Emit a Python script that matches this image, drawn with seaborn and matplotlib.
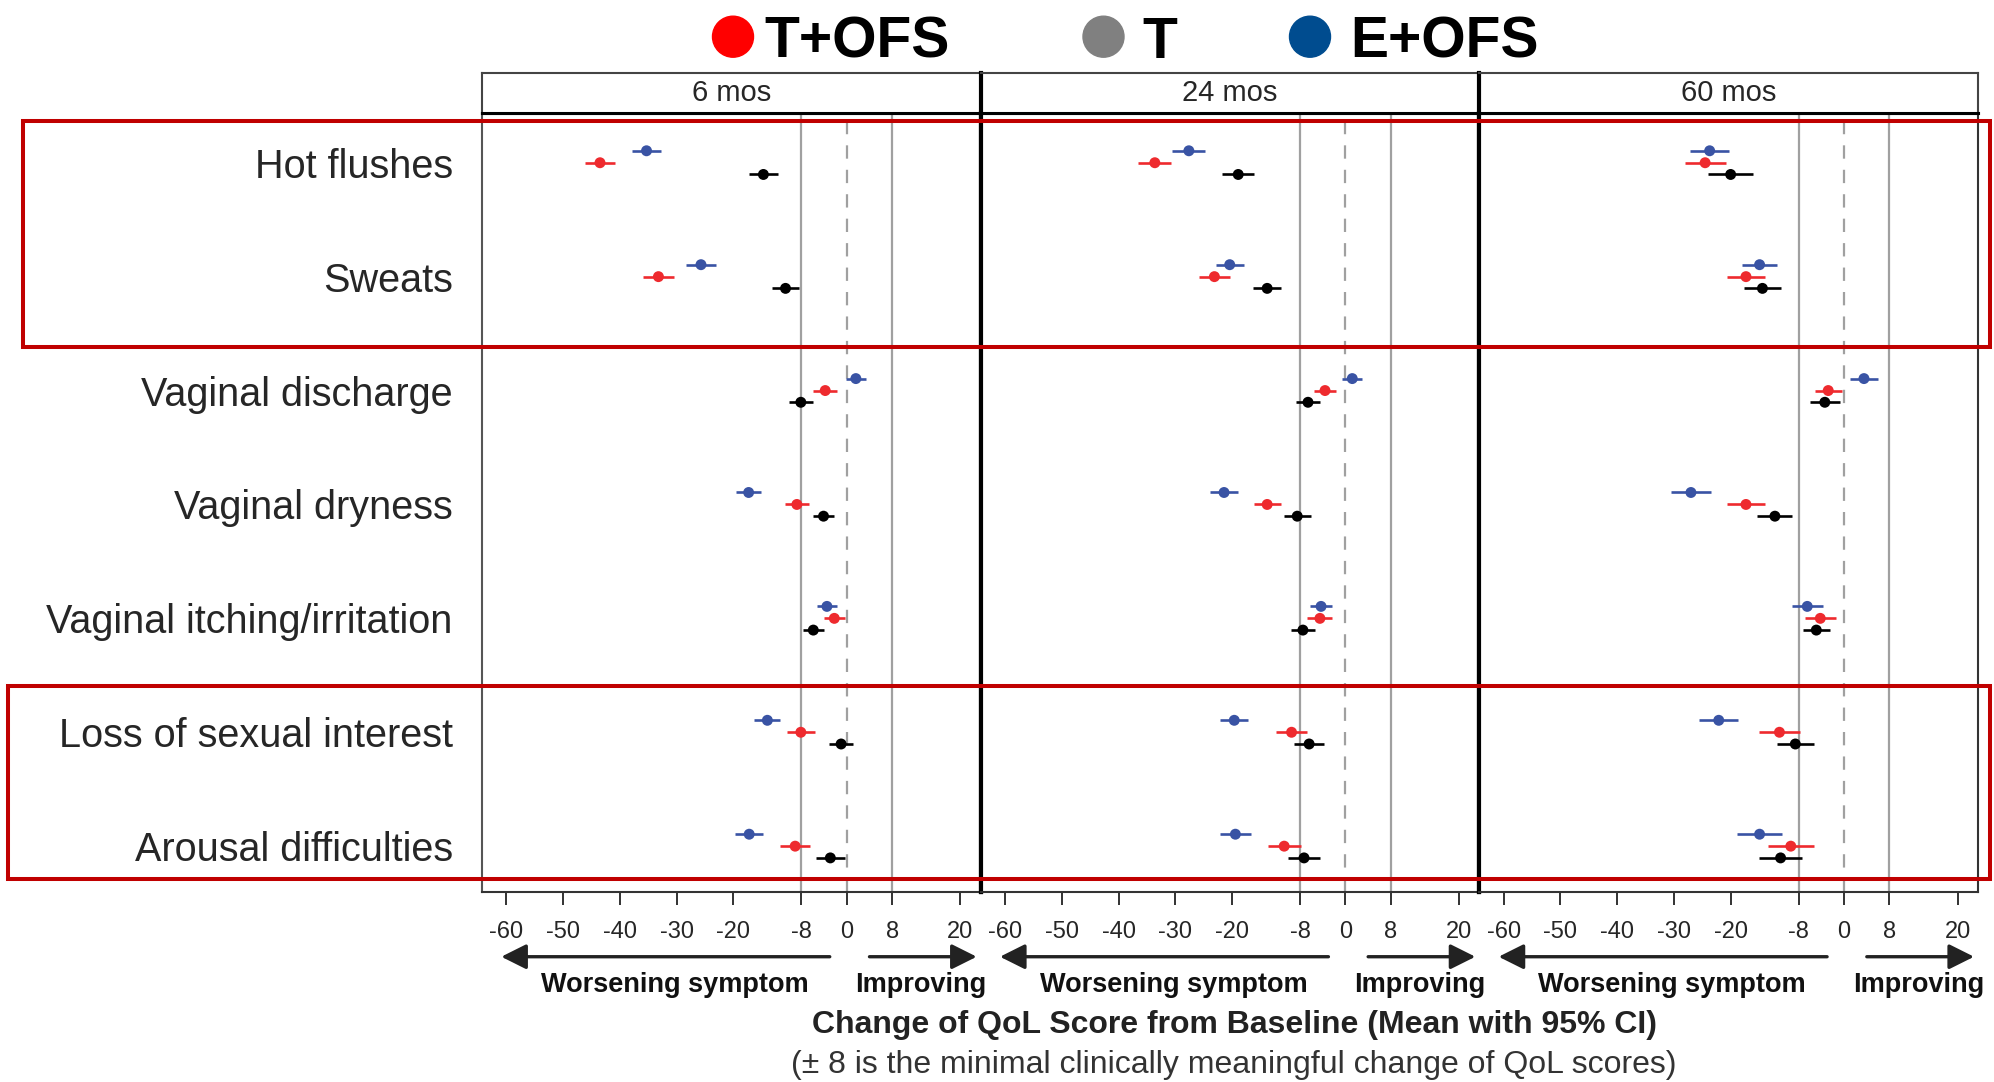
import numpy as np
import pandas as pd
import matplotlib
matplotlib.use("Agg")
import matplotlib.pyplot as plt
import seaborn as sns
from matplotlib.patches import Rectangle, Ellipse

# ---- data ----
categories = ["Hot flushes", "Sweats", "Vaginal discharge", "Vaginal dryness",
              "Vaginal itching/irritation", "Loss of sexual interest", "Arousal difficulties"]
periods = ["6 mos", "24 mos", "60 mos"]
groups = ["E+OFS", "T+OFS", "T"]

# mean change and 95% CI half-width, per period
t_ofs_mean_6 = [-43.5, -33.2, -3.8, -8.8, -2.2, -8.1, -9.1]
t_ofs_ci_6 = [2.6, 2.7, 2.1, 2.1, 1.8, 2.5, 2.6]
t_mean_6 = [-14.7, -10.8, -8.1, -4.1, -5.9, -1.0, -2.9]
t_ci_6 = [2.6, 2.4, 2.1, 1.8, 1.9, 2.1, 2.6]
e_ofs_mean_6 = [-35.3, -25.7, 1.6, -17.3, -3.5, -14.0, -17.2]
e_ofs_ci_6 = [2.6, 2.6, 1.8, 2.2, 1.8, 2.3, 2.5]

t_ofs_mean_24 = [-33.6, -23.1, -3.6, -13.8, -4.5, -9.5, -10.8]
t_ofs_ci_24 = [2.9, 2.7, 2.0, 2.4, 2.2, 2.7, 2.9]
t_mean_24 = [-18.9, -13.8, -6.6, -8.5, -7.5, -6.4, -7.3]
t_ci_24 = [2.8, 2.5, 2.1, 2.4, 2.1, 2.6, 2.8]
e_ofs_mean_24 = [-27.6, -20.4, 1.2, -21.4, -4.3, -19.6, -19.4]
e_ofs_ci_24 = [2.9, 2.5, 1.8, 2.5, 1.9, 2.5, 2.8]

t_ofs_mean_60 = [-24.5, -17.3, -2.8, -17.3, -4.2, -11.4, -9.4]
t_ofs_ci_60 = [3.6, 3.3, 2.4, 3.3, 2.7, 3.6, 4.1]
t_mean_60 = [-20.0, -14.4, -3.4, -12.2, -4.9, -8.6, -11.2]
t_ci_60 = [4.0, 3.2, 2.6, 3.1, 2.4, 3.3, 3.8]
e_ofs_mean_60 = [-23.7, -14.9, 3.5, -27.0, -6.5, -22.1, -14.9]
e_ofs_ci_60 = [3.4, 3.1, 2.4, 3.5, 2.7, 3.4, 3.9]

x_ticks = [-60, -50, -40, -30, -20, -8, 0, 8, 20]

# ---- styling ----
dot_colors = {"E+OFS": "#3953a4", "T+OFS": "#ee2a2e", "T": "#000000"}
legend_colors = {"T+OFS": "#ff0000", "T": "#808080", "E+OFS": "#004c8f"}
offsets = {"E+OFS": -0.105, "T+OFS": 0.0, "T": 0.103}

period_data = {
    "6 mos": {"T+OFS": (t_ofs_mean_6, t_ofs_ci_6), "T": (t_mean_6, t_ci_6), "E+OFS": (e_ofs_mean_6, e_ofs_ci_6)},
    "24 mos": {"T+OFS": (t_ofs_mean_24, t_ofs_ci_24), "T": (t_mean_24, t_ci_24), "E+OFS": (e_ofs_mean_24, e_ofs_ci_24)},
    "60 mos": {"T+OFS": (t_ofs_mean_60, t_ofs_ci_60), "T": (t_mean_60, t_ci_60), "E+OFS": (e_ofs_mean_60, e_ofs_ci_60)},
}

rows = []
for period in periods:
    for g in groups:
        means, cis = period_data[period][g]
        for i, cat in enumerate(categories):
            rows.append({"period": period, "group": g, "category": cat,
                         "pos": i + offsets[g], "mean": means[i],
                         "lo": means[i] - cis[i], "hi": means[i] + cis[i]})
df = pd.DataFrame(rows)

sns.set_theme(style="white")
plt.rcParams["font.family"] = ["Liberation Sans", "DejaVu Sans"]

W, H = 1994, 1082
fig = plt.figure(figsize=(W / 100, H / 100), dpi=100)

left_px, right_px = 482, 1978
top_px, bot_px = 113.3, 892.3
pw = (right_px - left_px) / 3

for k, period in enumerate(periods):
    ax = fig.add_axes([(left_px + k * pw) / W, 1 - bot_px / H, pw / W, (bot_px - top_px) / H])
    sub = df[df.period == period]

    ax.axvline(-8, color="#a0a0a0", lw=1.6, zorder=1)
    ax.axvline(8, color="#a0a0a0", lw=1.6, zorder=1)
    ax.axvline(0, color="#a0a0a0", lw=1.6, ls=(0, (6, 5)), zorder=1)

    ax.hlines(sub["pos"], sub["lo"], sub["hi"], colors=sub["group"].map(dot_colors), lw=1.9, zorder=2)
    sns.scatterplot(data=sub, x="mean", y="pos", hue="group", palette=dot_colors,
                    s=62, linewidth=0, legend=False, ax=ax, zorder=3)

    ax.set_xlim(-64.3, 23.6)
    ax.set_ylim(6.405, -0.434)
    ax.set_xticks(x_ticks)
    ax.set_xticklabels([str(t) for t in x_ticks], fontsize=17)
    ax.tick_params(axis="x", direction="out", length=9.4, width=1.3, color="#222222", pad=11, bottom=True)
    ax.set_xlabel("")
    ax.set_ylabel("")
    ax.set_yticks(range(len(categories)))
    if k == 0:
        ax.set_yticklabels(categories, fontsize=28.5)
        ax.tick_params(axis="y", length=0, pad=21)
    else:
        ax.set_yticklabels([])
        ax.tick_params(axis="y", length=0)

    for side in ["left", "right", "bottom", "top"]:
        ax.spines[side].set_color("#333333")
        ax.spines[side].set_linewidth(1.5)
    ax.spines["top"].set_color("#000000")
    ax.spines["top"].set_linewidth(2.2)
    if k == 0:
        ax.spines["left"].set_color("#555555")
    if k > 0:
        ax.spines["left"].set_color("#000000")
        ax.spines["left"].set_linewidth(3)
    if k < 2:
        ax.spines["right"].set_color("#000000")
        ax.spines["right"].set_linewidth(3)

    # direction arrows and captions under the axis
    tr = ax.get_xaxis_transform()
    arrow = dict(arrowstyle="-|>,head_length=0.9,head_width=0.45", lw=2.4, color="#222222",
                 shrinkA=0, shrinkB=0, mutation_scale=17)
    ax.annotate("", xy=(-60.9, -0.0827), xytext=(-3.0, -0.0827), xycoords=tr, textcoords=tr,
                arrowprops=arrow, annotation_clip=False)
    ax.annotate("", xy=(22.9, -0.0827), xytext=(4.0, -0.0827), xycoords=tr, textcoords=tr,
                arrowprops=arrow, annotation_clip=False)
    ax.text(-30.3, -0.119, "Worsening symptom", transform=tr, ha="center", va="center",
            fontsize=19.5, fontweight="bold", color="#111111")
    ax.text(13.1, -0.119, "Improving", transform=tr, ha="center", va="center",
            fontsize=19.5, fontweight="bold", color="#111111")

    # facet strip
    sax = fig.add_axes([(left_px + k * pw) / W, 1 - top_px / H, pw / W, 40 / H])
    sax.set_xticks([])
    sax.set_yticks([])
    sax.text(0.5, 0.5, period, ha="center", va="center", fontsize=21, transform=sax.transAxes)
    for side in ["left", "right", "top"]:
        sax.spines[side].set_color("#444444")
        sax.spines[side].set_linewidth(1.5)
    sax.spines["bottom"].set_color("#000000")
    sax.spines["bottom"].set_linewidth(2.2)
    if k > 0:
        sax.spines["left"].set_color("#000000")
        sax.spines["left"].set_linewidth(3)

# axis title
fig.text(1234 / W, 1 - 1025 / H, "Change of QoL Score from Baseline (Mean with 95% CI)",
         ha="center", va="center", fontsize=23, fontweight="bold", color="#222222")
fig.text(1234 / W, 1 - 1065 / H, "(± 8 is the minimal clinically meaningful change of QoL scores)",
         ha="center", va="center", fontsize=23, color="#333333")

# legend at top
legend_items = [("T+OFS", 733, 764.8), ("T", 1103.5, 1142.5), ("E+OFS", 1310, 1350)]
for name, cx, tx in legend_items:
    fig.add_artist(Ellipse((cx / W, 1 - 36.7 / H), 41 / W, 41 / H, transform=fig.transFigure,
                           color=legend_colors[name]))
    fig.text(tx / W, 1 - 36.7 / H, name, ha="left", va="center_baseline", fontsize=41,
             fontweight="bold", color="#000000")

# highlight boxes
box_color = "#c00000"
fig.add_artist(Rectangle((23 / W, 1 - 346.7 / H), (1990 - 23) / W, (346.7 - 121) / H,
                         transform=fig.transFigure, fill=False, ec=box_color, lw=2.9))
fig.add_artist(Rectangle((8 / W, 1 - 879 / H), (1990 - 8) / W, (879 - 685.7) / H,
                         transform=fig.transFigure, fill=False, ec=box_color, lw=2.9))

fig.savefig("out.png", dpi=100)
